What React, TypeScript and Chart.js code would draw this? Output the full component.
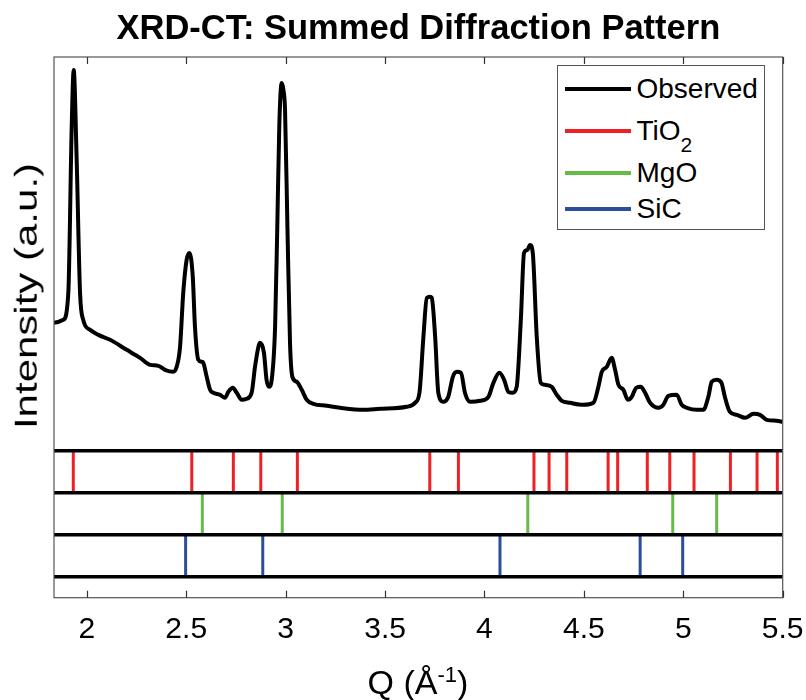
import React, { useEffect, useRef } from 'react';
import { Chart, registerables } from 'chart.js';

Chart.register(...registerables);

// ---- Data ----
const Q_OBS = [1.835,1.882,1.907,1.924,1.934,1.949,1.966,1.982,2.016,2.058,2.117,2.201,2.268,2.318,2.36,2.393,2.435,2.452,2.469,2.485,2.502,2.516,2.533,2.544,2.561,2.578,2.586,2.603,2.62,2.636,2.67,2.695,2.712,2.734,2.754,2.779,2.804,2.829,2.846,2.863,2.871,2.891,2.904,2.917,2.93,2.947,2.958,2.968,2.98,2.989,2.997,3.009,3.022,3.034,3.056,3.081,3.106,3.139,3.207,3.274,3.391,3.475,3.609,3.651,3.673,3.693,3.71,3.726,3.735,3.752,3.768,3.793,3.818,3.841,3.861,3.882,3.902,3.928,3.978,4.02,4.045,4.075,4.099,4.12,4.142,4.162,4.183,4.199,4.216,4.229,4.243,4.263,4.283,4.305,4.338,4.364,4.389,4.431,4.497,4.548,4.573,4.59,4.615,4.64,4.657,4.674,4.699,4.721,4.741,4.763,4.786,4.808,4.833,4.875,4.9,4.925,4.967,4.992,5.018,5.068,5.101,5.126,5.143,5.168,5.192,5.209,5.234,5.269,5.311,5.353,5.386,5.42,5.47,5.5];
const I_OBS = [275,278,305,471,528,438,305,278,268,263,258,248,240,233,232,228,226,231,251,305,338,345,321,271,238,236,235,221,208,205,203,200,206,210,205,198,199,205,231,251,255,245,218,211,218,271,371,471,515,508,488,371,255,221,216,208,198,194,192,190,188,189,191,195,205,261,300,301,300,261,205,196,201,221,226,225,205,196,197,201,215,225,218,206,205,211,278,345,348,353,345,261,215,213,211,203,197,195,193,195,211,226,231,240,228,213,208,198,201,210,211,205,195,190,193,202,203,193,190,188,188,201,216,218,215,201,186,183,180,184,183,178,177,176];

const TIO2_PEAKS = [1.932,2.528,2.737,2.875,3.059,3.725,3.869,4.249,4.325,4.414,4.622,4.670,4.819,4.932,5.054,5.237,5.371,5.473];
const MGO_PEAKS = [2.581,2.983,4.218,4.947,5.168];
const SIC_PEAKS = [2.497,2.885,4.078,4.783,4.997];

const X_TICKS = [2, 2.5, 3, 3.5, 4, 4.5, 5, 5.5];
const X_MIN = 1.835;
const X_MAX = 5.5;
const Y_MIN = 0;
const Y_MAX = 541;
// separators of the reference-pattern strips (same units as intensity)
const STRIP_LINES = [147, 105, 63, 21];

const RED = '#ED2024';
const GREEN = '#66BB46';
const BLUE = '#2B4D9C';
const FONT = "'Liberation Sans', Arial, Helvetica, sans-serif";

function sticks(peaks: number[], lo: number, hi: number) {
  const pts: any[] = [];
  peaks.forEach((p) => {
    pts.push({ x: p, y: lo }, { x: p, y: hi }, { x: p, y: null });
  });
  return pts;
}

const framePlugin = {
  id: 'frame',
  afterDatasetsDraw(chart: any) {
    const { ctx, chartArea: a, scales } = chart;
    const xs = scales.x;
    ctx.save();
    ctx.strokeStyle = '#555555';
    ctx.lineWidth = 1.2;
    ctx.strokeRect(a.left, a.top, a.right - a.left, a.bottom - a.top);
    ctx.beginPath();
    xs.ticks.forEach((t: any) => {
      const px = Math.round(xs.getPixelForValue(t.value)) + 0.5;
      ctx.moveTo(px, a.top);
      ctx.lineTo(px, a.top + 7);
      ctx.moveTo(px, a.bottom);
      ctx.lineTo(px, a.bottom - 7);
    });
    ctx.lineWidth = 1.2;
    ctx.strokeStyle = '#333333';
    ctx.stroke();
    ctx.restore();
  },
};

export default function App() {
  const ref = useRef<HTMLCanvasElement | null>(null);

  useEffect(() => {
    if (!ref.current) return;
    const observed = Q_OBS.map((q, i) => ({ x: q, y: I_OBS[i] }));
    const lineSets = STRIP_LINES.map((y) => ({
      label: 'sep',
      data: [{ x: X_MIN, y }, { x: X_MAX, y }],
      borderColor: '#000000',
      borderWidth: 3.5,
      pointRadius: 0,
      order: 0,
    }));
    const chart = new Chart(ref.current, {
      type: 'line',
      data: {
        datasets: [
          {
            label: 'Observed',
            data: observed,
            borderColor: '#000000',
            borderWidth: 4,
            pointRadius: 0,
            cubicInterpolationMode: 'monotone',
            order: 0,
          },
          {
            label: 'TiO2',
            data: sticks(TIO2_PEAKS, STRIP_LINES[1], STRIP_LINES[0]),
            borderColor: RED,
            borderWidth: 3,
            pointRadius: 0,
            spanGaps: false,
            order: 1,
          },
          {
            label: 'MgO',
            data: sticks(MGO_PEAKS, STRIP_LINES[2], STRIP_LINES[1]),
            borderColor: GREEN,
            borderWidth: 3,
            pointRadius: 0,
            spanGaps: false,
            order: 1,
          },
          {
            label: 'SiC',
            data: sticks(SIC_PEAKS, STRIP_LINES[3], STRIP_LINES[2]),
            borderColor: BLUE,
            borderWidth: 3,
            pointRadius: 0,
            spanGaps: false,
            order: 1,
          },
          ...lineSets,
        ] as any,
      },
      options: {
        animation: false,
        responsive: false,
        devicePixelRatio: 1,
        layout: { padding: { left: 54, right: 23.3, top: 0, bottom: 38.3 } },
        plugins: {
          legend: { display: false },
          tooltip: { enabled: false },
          title: {
            display: true,
            text: 'XRD-CT: Summed Diffraction Pattern',
            color: '#000000',
            font: { family: FONT, size: 34.5, weight: 'bold', lineHeight: 1.2 },
            padding: { top: 8.3, bottom: 7.3 },
          },
        },
        scales: {
          x: {
            type: 'linear',
            min: X_MIN,
            max: X_MAX,
            grid: { display: false, drawTicks: false },
            border: { display: false },
            afterBuildTicks: (scale: any) => {
              scale.ticks = X_TICKS.map((v) => ({ value: v }));
            },
            afterFit: (scale: any) => {
              scale.paddingLeft = 0;
              scale.paddingRight = 0;
            },
            ticks: {
              color: '#000000',
              font: { family: FONT, size: 30, lineHeight: 1.2 },
              padding: 14,
              maxRotation: 0,
              autoSkip: false,
              callback: (v: any) => String(v),
            },
          },
          y: {
            type: 'linear',
            display: false,
            min: Y_MIN,
            max: Y_MAX,
          },
        },
      },
      plugins: [framePlugin],
    } as any);
    return () => chart.destroy();
  }, []);

  const legendItems = [
    { label: 'Observed', color: '#000000', y: 87.7 },
    { label: 'TiO', sub: '2', color: RED, y: 130 },
    { label: 'MgO', color: GREEN, y: 172.3 },
    { label: 'SiC', color: BLUE, y: 208.3 },
  ];
  const boxLeft = 556.5;
  const boxTop = 64.5;

  return (
    <div style={{ position: 'absolute', left: 0, top: 0, width: 806, height: 700, background: '#fff', fontFamily: FONT }}>
      <canvas ref={ref} width={806} height={700} style={{ position: 'absolute', left: 0, top: 0 }} />
      {/* Y axis title */}
      <div
        style={{
          position: 'absolute',
          left: 26 - 160,
          top: 296 - 22,
          width: 320,
          height: 44,
          lineHeight: '44px',
          fontSize: 42,
          textAlign: 'center',
          color: '#000',
          transform: 'rotate(-90deg) scale(1, 0.76)',
          transformOrigin: '50% 50%',
          whiteSpace: 'nowrap',
        }}
      >
        Intensity (a.u.)
      </div>
      {/* X axis title */}
      <div
        style={{
          position: 'absolute',
          left: 318,
          top: 664,
          width: 200,
          height: 36,
          lineHeight: '36px',
          fontSize: 34,
          textAlign: 'center',
          color: '#000',
          whiteSpace: 'nowrap',
        }}
      >
        Q (Å<span style={{ fontSize: 22, position: 'relative', top: -12 }}>-1</span>)
      </div>
      {/* Legend */}
      <div
        style={{
          position: 'absolute',
          left: boxLeft,
          top: boxTop,
          width: 208.5,
          height: 165,
          border: '1.2px solid #555',
          boxSizing: 'border-box',
          background: '#fff',
        }}
      >
        {legendItems.map((it) => (
          <React.Fragment key={it.label}>
            <div
              style={{
                position: 'absolute',
                left: 7,
                top: it.y - boxTop - 2,
                width: 66,
                height: 4,
                background: it.color,
              }}
            />
            <div
              style={{
                position: 'absolute',
                left: 79,
                top: it.y - boxTop - 15,
                height: 30,
                lineHeight: '30px',
                fontSize: 28,
                color: '#000',
                whiteSpace: 'nowrap',
              }}
            >
              {it.label}
              {it.sub ? (
                <span style={{ fontSize: 21, position: 'relative', top: 12 }}>{it.sub}</span>
              ) : null}
            </div>
          </React.Fragment>
        ))}
      </div>
    </div>
  );
}
